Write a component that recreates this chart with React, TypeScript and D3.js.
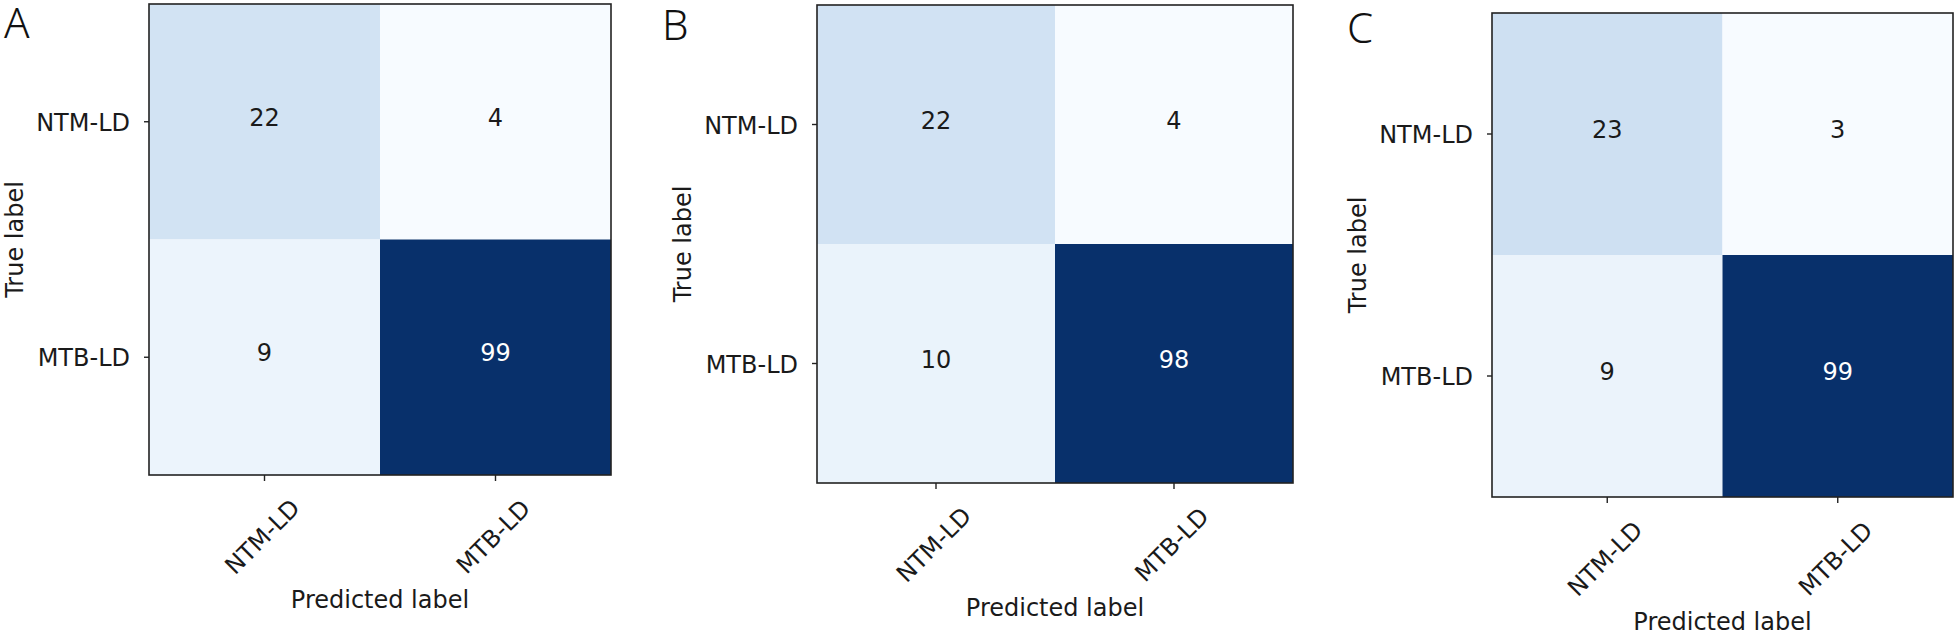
import React from "react";
import * as d3 from "d3";

const classLabels = ["NTM-LD", "MTB-LD"];
const panelLetters = ["A", "B", "C"];
const panelAValues = [
  [22, 4],
  [9, 99],
];
const panelBValues = [
  [22, 4],
  [10, 98],
];
const panelCValues = [
  [23, 3],
  [9, 99],
];
const xAxisTitle = "Predicted label";
const yAxisTitle = "True label";

const panelValues = [panelAValues, panelBValues, panelCValues];

// layout (pixel boxes of each heat-map axes)
const layout = [
  { left: 149, top: 4, right: 611, bottom: 475, letterX: 4, letterY: 38 },
  { left: 817, top: 5, right: 1293, bottom: 483, letterX: 662, letterY: 40 },
  { left: 1492, top: 13, right: 1953, bottom: 497, letterX: 1347, letterY: 43 },
];

const bluesStops = [
  "#f7fbff",
  "#deebf7",
  "#c6dbef",
  "#9ecae1",
  "#6baed6",
  "#4292c6",
  "#2171b5",
  "#08519c",
  "#08306b",
];

const FONT = "'DejaVu Sans', sans-serif";

function Panel({ values, box, letter }) {
  const flat = values.flat();
  const vmin = d3.min(flat);
  const vmax = d3.max(flat);
  const norm = d3.scaleLinear().domain([vmin, vmax]).range([0, 1]);
  const blues = d3
    .scaleLinear()
    .domain(bluesStops.map((_, i) => i / (bluesStops.length - 1)))
    .range(bluesStops)
    .interpolate(d3.interpolateRgb);
  const color = (v) => blues(norm(v));
  const thresh = (vmin + vmax) / 2;

  const x = d3.scaleBand().domain(classLabels).range([box.left, box.right]);
  const y = d3.scaleBand().domain(classLabels).range([box.top, box.bottom]);
  const cx = (l) => x(l) + x.bandwidth() / 2;
  const cy = (l) => y(l) + y.bandwidth() / 2;
  const midX = (box.left + box.right) / 2;
  const midY = (box.top + box.bottom) / 2;

  return (
    <g>
      {values.map((row, i) =>
        row.map((v, j) => (
          <rect
            key={`c${i}${j}`}
            x={x(classLabels[j])}
            y={y(classLabels[i])}
            width={x.bandwidth()}
            height={y.bandwidth()}
            fill={color(v)}
          />
        ))
      )}
      {values.map((row, i) =>
        row.map((v, j) => (
          <text
            key={`t${i}${j}`}
            x={cx(classLabels[j])}
            y={cy(classLabels[i]) + 4}
            textAnchor="middle"
            fontFamily={FONT}
            fontSize={24}
            fill={v > thresh ? "#ffffff" : "#1a1a1a"}
          >
            {v}
          </text>
        ))
      )}
      <rect
        x={box.left}
        y={box.top}
        width={box.right - box.left}
        height={box.bottom - box.top}
        fill="none"
        stroke="#222"
        strokeWidth={1.6}
      />
      {classLabels.map((l) => (
        <g key={`yt${l}`}>
          <line x1={box.left - 5} x2={box.left} y1={cy(l)} y2={cy(l)} stroke="#222" strokeWidth={1.4} />
          <text
            x={box.left - 19}
            y={cy(l) + 9}
            textAnchor="end"
            fontFamily={FONT}
            fontSize={24}
            fill="#1a1a1a"
          >
            {l}
          </text>
        </g>
      ))}
      {classLabels.map((l) => (
        <g key={`xt${l}`}>
          <line x1={cx(l)} x2={cx(l)} y1={box.bottom} y2={box.bottom + 6} stroke="#222" strokeWidth={1.4} />
          <text
            transform={`translate(${cx(l) - 2},${box.bottom + 62}) rotate(-45)`}
            textAnchor="middle"
            dominantBaseline="central"
            fontFamily={FONT}
            fontSize={24}
            fill="#1a1a1a"
          >
            {l}
          </text>
        </g>
      ))}
      <text
        x={midX}
        y={box.bottom + 133}
        textAnchor="middle"
        fontFamily={FONT}
        fontSize={24}
        fill="#1a1a1a"
      >
        {xAxisTitle}
      </text>
      <text
        transform={`translate(${box.left - 126},${midY}) rotate(-90)`}
        textAnchor="middle"
        fontFamily={FONT}
        fontSize={24}
        fill="#1a1a1a"
      >
        {yAxisTitle}
      </text>
      <text
        x={box.letterX}
        y={box.letterY}
        fontFamily="'Noto Sans', 'Open Sans', sans-serif"
        fontWeight={300}
        fontSize={42}
        fill="#111"
      >
        {letter}
      </text>
    </g>
  );
}

export default function App() {
  return (
    <svg
      width={1957}
      height={635}
      style={{ position: "absolute", left: 0, top: 0, display: "block", background: "#fff" }}
    >
      <rect x={0} y={0} width={1957} height={635} fill="#fff" />
      {panelValues.map((vals, k) => (
        <Panel key={k} values={vals} box={layout[k]} letter={panelLetters[k]} />
      ))}
    </svg>
  );
}
